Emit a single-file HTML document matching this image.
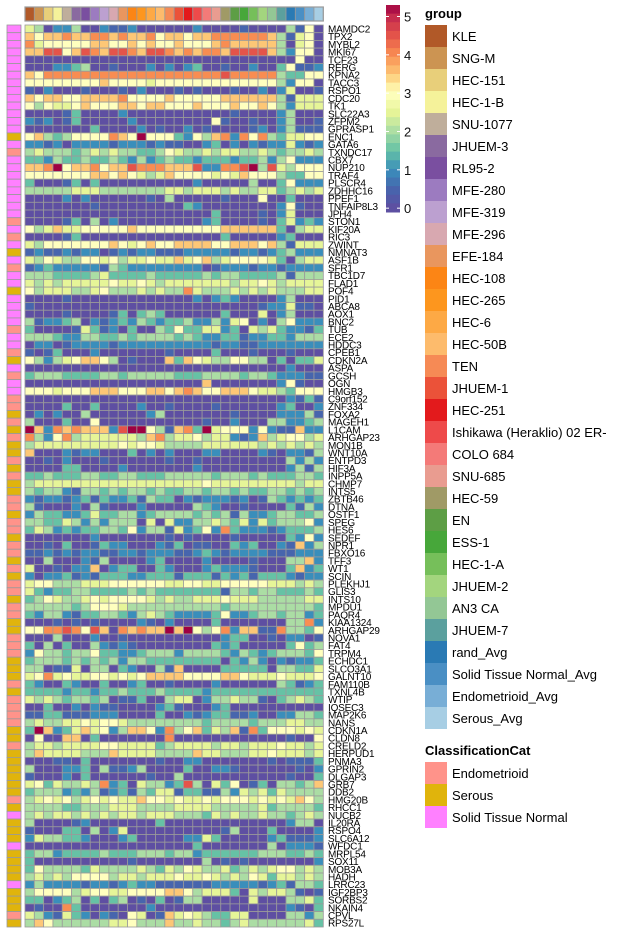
<!DOCTYPE html>
<html><head><meta charset="utf-8"><style>
html,body{margin:0;padding:0;background:#fff;}
svg{display:block;font-family:"Liberation Sans",Arial,sans-serif;}
</style></head><body>
<svg id="chart" width="625" height="931" viewBox="0 0 625 931" xmlns="http://www.w3.org/2000/svg"></svg>
<script>
const groups = ["KLE","SNG-M","HEC-151","HEC-1-B","SNU-1077","JHUEM-3","RL95-2","MFE-280","MFE-319","MFE-296","EFE-184","HEC-108","HEC-265","HEC-6","HEC-50B","TEN","JHUEM-1","HEC-251","Ishikawa (Heraklio) 02 ER-","COLO 684","SNU-685","HEC-59","EN","ESS-1","HEC-1-A","JHUEM-2","AN3 CA","JHUEM-7","rand_Avg","Solid Tissue Normal_Avg","Endometrioid_Avg","Serous_Avg"];
const groupColors = ["#B15928","#CC9452","#E8CF7A","#F5F29A","#BFAE9B","#8A6AA0","#7A4FA0","#9C7BC0","#BCA0D0","#D8A8B0","#E9965E","#FC8515","#FD961E","#FDA945","#FDBB6C","#F68A55","#EB5239","#E31A1C","#EE4A4A","#F47A78","#E99C90","#A09A66","#5D9E45","#47A73A","#76BF5A","#A3D57E","#93C795","#5BA09E","#2A7AB4","#4A8FC4","#78AED6","#A7CEE4"];
const classCats = ["Endometrioid","Serous","Solid Tissue Normal"];
const classColors = {S:"#FF938A",Y:"#E0B40C",P:"#FF80FF"};
const classKeys = ["S","Y","P"];
const genes = ["MAMDC2","TPX2","MYBL2","MKI67","TCF23","RERG","KPNA2","TACC3","RSPO1","CDC20","TK1","SLC22A3","ZFPM2","GPRASP1","ENC1","GATA6","TXNDC17","CBX7","NUP210","TRAF4","PLSCR4","ZDHHC16","PPEF1","TNFAIP8L3","JPH4","STON1","KIF20A","RIC3","ZWINT","NMNAT3","ASF1B","SFR1","TBC1D7","FLAD1","POF4","PID1","ABCA8","AOX1","BNC2","TUB","ECE2","HDDC3","CPEB1","CDKN2A","ASPA","GCSH","OGN","HMGB3","C9orf152","ZNF334","FOXA2","MAGEH1","L1CAM","ARHGAP23","MON1B","WNT10A","ENTPD3","HIF3A","INPP5A","CHMP7","INTS5","ZBTB46","DTNA","OSTF1","SPEG","HES6","SEDEF","NPR1","FBXO16","TFF3","WT1","SCIN","PLEKHJ1","GLIS3","INTS10","MPDU1","PAQR4","KIAA1324","ARHGAP29","NOVA1","FAT4","TRPM4","ECHDC1","SLCO3A1","GALNT10","FAM110B","TXNL4B","WTIP","IQSEC3","MAP2K6","NANS","CDKN1A","CLDN8","CRELD2","HERPUD1","PNMA3","GPRIN2","DLGAP3","GRB7","DDB2","HMG20B","RHCC1","NUCB2","IL20RA","RSPO4","SLC6A12","WFDC1","MRPL54","SOX11","MOB3A","HADH","LRRC23","IGF2BP3","SORBS2","NKAIN4","CPVL","RPS27L"];
const rowClass = "PPPPPPPPPPPPPPYPSPPPPPPPPSPSPYPSPPYPPPPSPPSYPSPPSSYSYSYYSYSYYSSYSSYSSYSYSSYSSYYSSSYYYSYSSSSYYSYYYYYYSYPYYYPYYYYPYYYSY";
// expression levels: digit d => d*0.5, A => 5.0, B => 5.3
const rows = [
"54022400211200000020000100004160 1",
"76778778878778677677888888741 56",
"85666667766767667666787777740 56",
"77996798799879987878879999742 66",
"00000000000000000000000000000600",
"00022340010002020230010020036112",
"76888888888888888888898888843366",
"66666666766665666666666666642 66",
"10200010001020001010001002025001",
"76776677778666676666677777741555",
"64655676667767766676667667642555",
"00001300002000000000001000024000",
"21201300000200000000610010024001",
"00000003000020100201000012024111",
"674346666876B6663264782868435566",
"22120222212221211002302021225212",
"45444345454433465445455445434454",
"33243343343242343323332334246222",
"778B67786779888777922889B4954666",
"66666667767654576666565766643366",
"30001303000000000020000040036222",
"44444555444444455455545445534545",
"00002020000001040000010006003000",
"00000001000000000320000000026100",
"00000000000000000000300001025000",
"00001304020000000002300001035232",
"64575566666766666666677777730455",
"00001300000000000000030000023000",
"54666666676567667777667776741555",
"12112122012122111222221221234222",
"54654466564556557567456666530455",
"12322222143222222220122212212222",
"44433334533334333334344333341444",
"54545555565565455555554556545555",
"64555445644454544854445454544455",
"00001000000000000020232000024000",
"10000000000000000000000001225110",
"00001000013034300000030005024000",
"41223402123243233422425602046222",
"30000153120300436335523054532213",
"44432244334344443432233122332444",
"02201222212222222222122112222222",
"10130002000000010000300010001000",
"64245677640100073765446644030335",
"00000000000000000000000000002000",
"34443333443444443334444344322211",
"00000000000000000007000000026100",
"66656667776667767876677765543666",
"00000000000000000000000000002131",
"00003003000020010000100000023002",
"02020040000002400000001000022241",
"40003006000000000001002000442234",
"B7287877729BB641783B566626211722",
"84268455555547845564552127456645",
"45555555556566544445555554545454",
"70002122000302020002200002102214",
"00102000100000010010000000004242",
"00003300002000000020000000002414",
"33433344334433344444344434333443",
"45555555555555555556555555555455",
"43442144343443433443443433443434",
"21221231322314330212221201432323",
"41000204100020000043200100003142",
"24332235334423444434341422344334",
"44335424244405052244543525344462",
"35423233443624415236283222123334",
"00000002000000010100001000003262",
"00103001322000213011003230021724",
"11212122112212221123212222111222",
"00400021400002300002000010004472",
"50010227023300320002322210003723",
"20223121333223331333132313332122",
"56644455566666655665566666555454",
"53233443333434333333314434433343",
"34654456566665454455565554444455",
"44444346665444444444434444444443",
"32442133443245432222362234434423",
"00010101000021020000300000004482",
"668898697087877B7B64682771184436",
"00040002001000000000023300102201",
"30403004212100000000323000003634",
"26443446332234442444432432344436",
"34443434342443333333303242021223",
"44011504403200417000033333044335",
"56856556656567777666677655565556",
"32003200300230010000200000043123",
"33332332334333433332333333333333",
"54543443401130045502445441034543",
"00300202110000231000230000000000",
"11331112220000300212331120022443",
"45445565665444444443444434445544",
"3B723575624776284673547183666565",
"06007703000000080000000000001006",
"45545555665555345555455455565545",
"47555544475555444475544455655545",
"00011030000000100220000000101113",
"40002230411240000300221000000102",
"10002030000001004000000000001003",
"56354454823054423940536013044347",
"34442324123143551331142545354444",
"45656456565576656556566656565764",
"44443344455544445555444445344443",
"45455454545545554443545445443454",
"40000120000000300000000000002440",
"10003304025000000000014000300002",
"25443320002300000225300000231112",
"00000000000000000030000000402221",
"34423333433344434423333334443343",
"30000000000100000004010100000002",
"36444435444454354654453454566454",
"45454666645545556556545465355454",
"24222212212322111111222221231443",
"46666456655666677645553054554101",
"33023403034010301440000050004453",
"01008300000002000000000000002103",
"54215320210650175654335500004424",
"47644444455644474454434544444453"
];
const tickValues = [0,1,2,3,4,5];

const NS="http://www.w3.org/2000/svg";
const svg=document.getElementById('chart');
function mk(tag,attrs,parent){const e=document.createElementNS(NS,tag);for(const k in attrs)e.setAttribute(k,attrs[k]);(parent||svg).appendChild(e);return e;}
const stops=[[0,"#5E4FA2"],[0.5,"#4765AD"],[1,"#3A8EBB"],[1.5,"#66C2A5"],[2,"#ABDDA4"],[2.5,"#E6F598"],[3,"#FFFFBF"],[3.25,"#FEE99A"],[3.5,"#FDC776"],[4,"#F88D52"],[4.5,"#E4544A"],[5,"#C42A4E"],[5.3,"#9E0142"]];
function hex(h){return [1,3,5].map(i=>parseInt(h.substr(i,2),16));}
function color(v){if(v<=stops[0][0])return stops[0][1];for(let i=1;i<stops.length;i++){if(v<=stops[i][0]){const a=stops[i-1],b=stops[i];const t=(v-a[0])/(b[0]-a[0]);const ca=hex(a[1]),cb=hex(b[1]);return "rgb("+ca.map((x,j)=>Math.round(x+(cb[j]-x)*t)).join(",")+")";}}return stops[stops.length-1][1];}
function val(c){if(c==="A")return 5.0;if(c==="B")return 5.3;return (+c)*0.5;}

const X0=25,X1=323.3,Y0=25,Y1=927;
const nC=groups.length,nR=genes.length;
const cw=(X1-X0)/nC,rh=(Y1-Y0)/nR;
const xPos=i=>X0+i*cw, yPos=r=>Y0+r*rh;
const grid="#9a9a9a";

// top annotation
const gTop=mk('g',{});


groups.forEach((g,i)=>{const r=mk('rect',{x:xPos(i),y:7,width:cw,height:14,fill:groupColors[i],stroke:grid,'stroke-width':0.8},gTop);

});
mk('rect',{x:X0,y:7,width:X1-X0,height:14,fill:'none',stroke:grid,'stroke-width':1.2},gTop);

// left annotation
const gLeft=mk('g',{});


for(let r=0;r<nR;r++){const k=rowClass[r]||"P";const e=mk('rect',{x:7,y:yPos(r),width:14,height:rh,fill:classColors[k],stroke:grid,'stroke-width':0.8},gLeft);

}

// heatmap
const gH=mk('g',{});


for(let r=0;r<nR;r++){let s=(rows[r]||"").replace(/\s/g,"");while(s.length<nC)s+="0";
for(let c=0;c<nC;c++){const e=mk('rect',{x:xPos(c),y:yPos(r),width:cw,height:rh,fill:color(val(s[c])),stroke:grid,'stroke-width':0.8},gH);

}}

// row labels
const gL=mk('g',{});


genes.forEach((g,r)=>{const t=mk('text',{x:328,y:yPos(r)+rh/2+3.6,'font-size':10,fill:'#000',transform:'',style:'letter-spacing:-0.2px'},gL);t.textContent=g;

});

// color bar legend
const gC=mk('g',{});


const vTop=5.3,vBot=-0.1,cbY0=5,cbY1=212,cbX=386,cbW=14;
const yv=v=>cbY0+(vTop-v)/(vTop-vBot)*(cbY1-cbY0);
const steps=24;
for(let i=0;i<steps;i++){const v0=vTop-(vTop-vBot)*i/steps,v1=vTop-(vTop-vBot)*(i+1)/steps;
const e=mk('rect',{x:cbX,y:yv(v0),width:cbW,height:yv(v1)-yv(v0)+0.5,fill:color((v0+v1)/2)},gC);

}
tickValues.forEach(v=>{mk('line',{x1:cbX,x2:cbX+3,y1:yv(v),y2:yv(v),stroke:'#fff','stroke-width':1},gC);mk('line',{x1:cbX+cbW-3,x2:cbX+cbW,y1:yv(v),y2:yv(v),stroke:'#fff','stroke-width':1},gC);
const t=mk('text',{x:404,y:yv(v)+5,'font-size':13,fill:'#111'},gC);t.textContent=String(v);

});

// group legend
const gG=mk('g',{});


const tt=mk('text',{x:425,y:18,'font-size':13,'font-weight':'bold',fill:'#000'},gG);tt.textContent="group";


groups.forEach((g,i)=>{const y=25+i*22;
const sw=mk('rect',{x:425,y:y,width:22,height:22,fill:groupColors[i]},gG);


const t=mk('text',{x:452,y:y+16,'font-size':13,fill:'#000'},gG);t.textContent=g;

});

// classification legend
const gK=mk('g',{});


const kt=mk('text',{x:425,y:755,'font-size':13,'font-weight':'bold',fill:'#000'},gK);kt.textContent="ClassificationCat";


classCats.forEach((c,i)=>{const y=762+i*22;
const sw=mk('rect',{x:425,y:y,width:22,height:22,fill:classColors[classKeys[i]]},gK);


const t=mk('text',{x:452,y:y+16,'font-size':13,fill:'#000'},gK);t.textContent=c;

});
</script>
</body></html>
